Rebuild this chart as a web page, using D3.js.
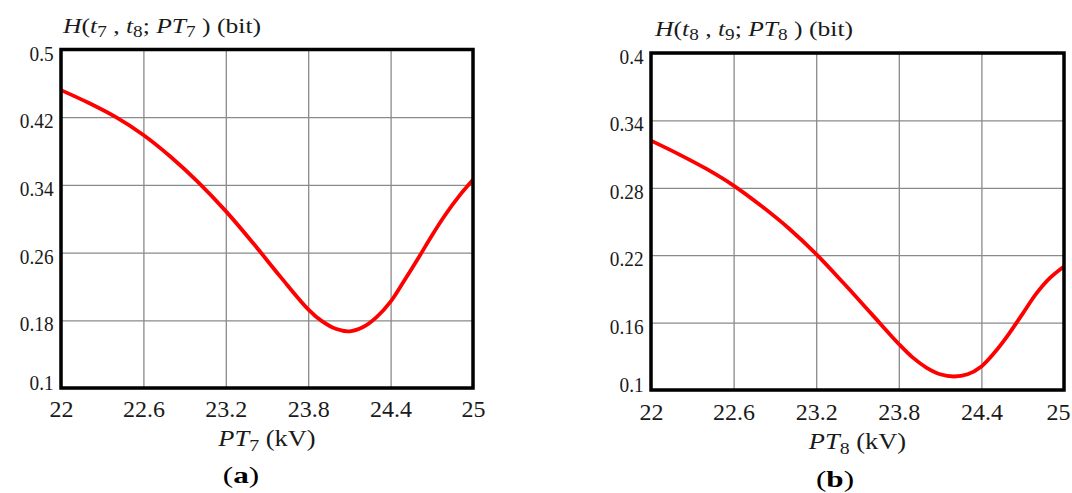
<!DOCTYPE html>
<html>
<head>
<meta charset="utf-8">
<script src="https://cdn.jsdelivr.net/npm/d3@7"></script>
<style>
  body { margin: 0; background: #fff; }
  svg { display: block; font-family: "Liberation Serif", "Times New Roman", serif; }
</style>
</head>
<body>
<svg id="chart" width="1072" height="493"></svg>
<script>
// Tick values shared by both panels on the voltage axis
const xTicks = [22, 22.6, 23.2, 23.8, 24.4, 25];
const yTicksA = [0.1, 0.18, 0.26, 0.34, 0.42, 0.5];
const yTicksB = [0.1, 0.16, 0.22, 0.28, 0.34, 0.4];

// (a) joint entropy H(t7, t8; PT7) against PT7 in kV
const pt7 = [22.0, 22.2, 22.4, 22.6, 22.8, 23.0, 23.2, 23.4, 23.6, 23.8, 23.9, 24.0, 24.1, 24.2, 24.3, 24.4, 24.5, 24.6, 24.7, 24.8, 24.9, 25.0];
const hA  = [0.452, 0.437, 0.420, 0.399, 0.373, 0.343, 0.309, 0.271, 0.231, 0.193, 0.179, 0.170, 0.167, 0.172, 0.184, 0.202, 0.227, 0.253, 0.280, 0.305, 0.327, 0.346];

// (b) joint entropy H(t8, t9; PT8) against PT8 in kV
const pt8 = [22.0, 22.2, 22.4, 22.6, 22.8, 23.0, 23.2, 23.4, 23.6, 23.8, 23.9, 24.0, 24.1, 24.2, 24.3, 24.4, 24.5, 24.6, 24.7, 24.8, 24.9, 25.0];
const hB  = [0.322, 0.310, 0.297, 0.282, 0.264, 0.244, 0.221, 0.195, 0.168, 0.141, 0.129, 0.120, 0.114, 0.112, 0.114, 0.121, 0.134, 0.150, 0.168, 0.186, 0.200, 0.210];

const svg = d3.select("#chart");
const W = +svg.attr("width");

const panels = [
  {
    box: { left: 61, right: 473, top: 49.5, bottom: 388 },
    xs: pt7, ys: hA, yDomain: [0.1, 0.5], yTicks: yTicksA,
    title: [["H", "i"], ["(", ""], ["t", "i"], ["7", "s"], [" , ", ""], ["t", "i"], ["8", "s"], ["; ", ""], ["PT", "i"], ["7", "s"], [" ) (bit)", ""]],
    titleX: 63, titleY: 33,
    xTitle: [["PT", "i"], ["7", "s"], [" (kV)", ""]],
    xTitleY: 446,
    caption: "a", captionX: 241, captionY: 483,
    xLabelY: 417
  },
  {
    box: { left: 651, right: 1064, top: 53, bottom: 390 },
    xs: pt8, ys: hB, yDomain: [0.1, 0.4], yTicks: yTicksB,
    title: [["H", "i"], ["(", ""], ["t", "i"], ["8", "s"], [" , ", ""], ["t", "i"], ["9", "s"], ["; ", ""], ["PT", "i"], ["8", "s"], [" ) (bit)", ""]],
    titleX: 655, titleY: 36,
    xTitle: [["PT", "i"], ["8", "s"], [" (kV)", ""]],
    xTitleY: 449,
    caption: "b", captionX: 835, captionY: 487,
    xLabelY: 420
  }
];

function richText(sel, parts) {
  parts.forEach(([txt, kind]) => {
    const t = sel.append("tspan").text(txt);
    if (kind === "i") t.attr("font-style", "italic");
    if (kind === "s") t.attr("font-size", "0.75em").attr("baseline-shift", "-28%");
  });
}

panels.forEach(p => {
  const b = p.box;
  const x = d3.scaleLinear().domain([22, 25]).range([b.left, b.right]);
  const y = d3.scaleLinear().domain(p.yDomain).range([b.bottom, b.top]);
  const g = svg.append("g");

  // vertical grid lines
  g.append("g")
    .attr("transform", `translate(0,${b.bottom})`)
    .call(d3.axisBottom(x).tickValues(xTicks).tickSize(-(b.bottom - b.top)).tickFormat(""))
    .call(a => a.select(".domain").remove())
    .call(a => a.selectAll("line").attr("stroke", "#8a8a8a").attr("stroke-width", 1.3));

  // horizontal grid lines
  g.append("g")
    .attr("transform", `translate(${b.left},0)`)
    .call(d3.axisLeft(y).tickValues(p.yTicks).tickSize(-(b.right - b.left)).tickFormat(""))
    .call(a => a.select(".domain").remove())
    .call(a => a.selectAll("line").attr("stroke", "#8a8a8a").attr("stroke-width", 1.3));

  // x tick labels; the last one is nudged left so it stays on the page
  const xa = g.append("g")
    .attr("transform", `translate(0,${b.bottom})`)
    .call(d3.axisBottom(x).tickValues(xTicks).tickSize(0).tickPadding(0).tickFormat(d3.format("")));
  xa.select(".domain").remove();
  xa.selectAll("text")
    .attr("y", p.xLabelY - b.bottom).attr("dy", 0)
    .attr("font-family", "Liberation Serif, serif").attr("font-size", 24).attr("fill", "#1a1a1a")
    .attr("dx", d => Math.min(0, (W - 2) - (x(d) + 12)));

  // y tick labels (the lowest one sits above the corner)
  const ya = g.append("g")
    .attr("transform", `translate(${b.left},0)`)
    .call(d3.axisLeft(y).tickValues(p.yTicks).tickSize(0).tickPadding(8).tickFormat(d3.format("")));
  ya.select(".domain").remove();
  ya.selectAll("text")
    .attr("font-family", "Liberation Serif, serif").attr("font-size", 21).attr("fill", "#1a1a1a")
    .attr("transform", "scale(0.92,1)")
    .attr("dy", d => d === p.yDomain[0] ? "0.05em" : "0.5em");

  // curve
  const line = d3.line()
    .x((d, i) => x(p.xs[i]))
    .y(d => y(d))
    .curve(d3.curveCatmullRom.alpha(0.5));
  g.append("path")
    .datum(p.ys)
    .attr("d", line)
    .attr("fill", "none")
    .attr("stroke", "#ff0000")
    .attr("stroke-width", 3.8)
    .attr("stroke-linejoin", "round");

  // frame
  g.append("rect")
    .attr("x", b.left).attr("y", b.top)
    .attr("width", b.right - b.left).attr("height", b.bottom - b.top)
    .attr("fill", "none").attr("stroke", "#000").attr("stroke-width", 3.5);

  // titles
  g.append("text")
    .attr("transform", `translate(${p.titleX},${p.titleY}) scale(1.22,1)`)
    .attr("font-size", 21).attr("fill", "#1a1a1a")
    .call(t => richText(t, p.title));

  g.append("text")
    .attr("transform", `translate(${(b.left + b.right) / 2},${p.xTitleY}) scale(1.15,1)`)
    .attr("text-anchor", "middle").attr("font-size", 23).attr("fill", "#1a1a1a")
    .call(t => richText(t, p.xTitle));

  const cap = g.append("text")
    .attr("transform", `translate(${p.captionX},${p.captionY}) scale(1.3,1)`)
    .attr("text-anchor", "middle").attr("font-size", 24).attr("fill", "#000");
  cap.append("tspan").text("(");
  cap.append("tspan").attr("font-weight", "bold").text(p.caption);
  cap.append("tspan").text(")");
});
</script>
</body>
</html>
